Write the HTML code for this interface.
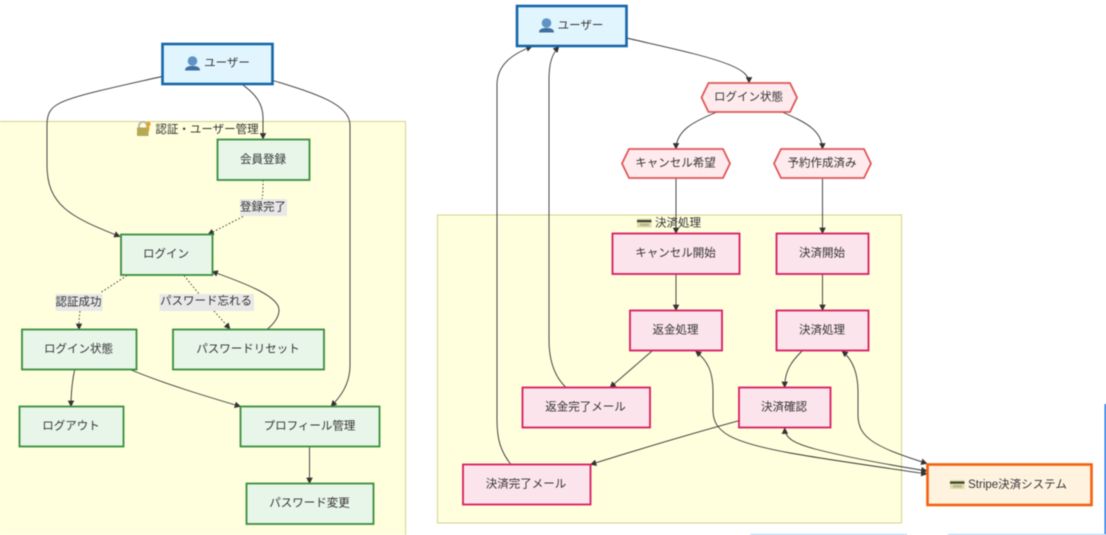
<!DOCTYPE html>
<html lang="ja">
<head>
<meta charset="utf-8">
<title>Diagram</title>
<style>
html,body{margin:0;padding:0;background:#fff;width:1106px;height:535px;overflow:hidden}
svg{display:block;filter:blur(0.5px)}
text{font-family:"Liberation Sans","Noto Sans CJK JP",sans-serif;font-size:11.5px;fill:#333;text-anchor:middle;dominant-baseline:central}
.u{fill:#e1f5fe;stroke:#1565a8;stroke-width:2.6}
.g{fill:#e8f5e9;stroke:#388e3c;stroke-width:1.8}
.r{fill:#ffebee;stroke:#e05555;stroke-width:1.8}
.p{fill:#fce4ec;stroke:#d81b60;stroke-width:1.8}
.s{fill:#fff3e0;stroke:#f4600c;stroke-width:2.6}
.sg{fill:#ffffde;stroke:#d3d38c;stroke-width:1}
.e{fill:none;stroke:#333;stroke-width:.9;marker-end:url(#a)}
.d{stroke-dasharray:1.6 2}
.b{marker-start:url(#b)}
.n{marker-end:none}
.l{fill:#e8e8e8}
</style>
</head>
<body>
<svg width="1106" height="535" viewBox="0 0 1106 535" xmlns="http://www.w3.org/2000/svg">
<defs>
<marker id="a" markerUnits="userSpaceOnUse" viewBox="0 0 10 10" refX="9" refY="5" markerWidth="6.500" markerHeight="6.500" orient="auto"><path d="M0,0L10,5L0,10z" fill="#333"/></marker>
<marker id="b" markerUnits="userSpaceOnUse" viewBox="0 0 10 10" refX="1" refY="5" markerWidth="6.500" markerHeight="6.500" orient="auto"><path d="M10,0L0,5L10,10z" fill="#333"/></marker>
<g id="card"><rect x="0" y="0" width="14.500" height="9" fill="#dcdca8"/><rect x="0" y="1.500" width="14.500" height="2.200" fill="#3f3f30"/><rect x="3" y="5" width="9" height="2.500" fill="#b9b98e"/></g>
<g id="person"><circle cx="7.500" cy="5" r="4.800" fill="#5f93c4"/><path d="M0,14.500C0,10.500 4,10 7.500,10S15,10.500 15,14.500z" fill="#3f6f9f"/></g>
</defs>

<!-- Subgraphs -->
<rect class="sg" x="-5" y="121.500" width="410.500" height="425"/>
<rect class="sg" x="437.500" y="215" width="464" height="308"/>

<!-- Left edges -->
<path class="e" d="M162,76.500C120,86 76,95 60,103C50,108 47,114 47,125L47,165C47,205 70,217 120,236.500"/>
<path class="e" d="M243,85C255,94 263,103 263,118L263,139"/>
<path class="e" d="M273,80.500C310,92 350,103 350,125L350,365C350,385 340,397 331,406.500"/>
<path class="e d n" d="M263,180C263,190 263,193 262,199"/>
<path class="e d" d="M243,216.500L208,234.500"/>
<path class="e d n" d="M127,275.500L100,293"/>
<path class="e d" d="M80,311C79,318 79,322 79,329.500"/>
<path class="e d n" d="M184,275.500L199,294"/>
<path class="e d" d="M214,311L230,329"/>
<path class="e" d="M267,329.500C276,322 279,316 279,310C279,297 250,285 212,271.500"/>
<path class="e" d="M74.700,369.500C72,382 71,392 71,406.500"/>
<path class="e" d="M130,369.500C165,384 205,396 240.500,406.500"/>
<path class="e" d="M309.500,446.500L309.500,483.500"/>

<!-- Right edges -->
<path class="e" d="M626.500,38C665,47 705,55 730,65C742,70 749,75 749,83"/>
<path class="e" d="M717,112C695,121 676,130 676,149"/>
<path class="e" d="M782,112C805,122 822,130 822.500,149"/>
<path class="e" d="M676,178L676,233.500"/>
<path class="e" d="M822.500,178L822.500,233.500"/>
<path class="e" d="M676,274L676,310.500"/>
<path class="e" d="M822.500,274L822.500,310.500"/>
<path class="e" d="M652,351L610,387.500"/>
<path class="e" d="M802,351C792,361 784.700,370 784.700,387.500"/>
<path class="e" d="M739,420.700C690,434 640,449 590.500,464.500"/>
<path class="e" d="M566,387.500C555,377 549,362 549,340L549,80C549,65 551,55 559,46.500"/>
<path class="e" d="M511,464.500C501,452 497,440 497,420L497,85C497,65 512,54 532,46.500"/>
<path class="e b" d="M695.500,351C708,361 713,372 713,392L713,410C713,432 730,442 790,453C830,460 880,467 927,474"/>
<path class="e b" d="M784.700,428C785,438 793,443 815,449C850,458 890,465 927,471"/>
<path class="e b" d="M842,351C852,359 858,372 858,392L858,415C858,438 875,447 927,463.500"/>

<!-- Left nodes -->
<rect class="u" x="162.500" y="44" width="110" height="40"/>
<rect class="g" x="217.500" y="139.500" width="92" height="40.500"/>
<rect class="g" x="121" y="234.500" width="91.500" height="40.500"/>
<rect class="g" x="22" y="329.500" width="114.500" height="40"/>
<rect class="g" x="173" y="329.500" width="151" height="40"/>
<rect class="g" x="19.500" y="406.500" width="104" height="40"/>
<rect class="g" x="240.500" y="406.500" width="139" height="40"/>
<rect class="g" x="246.500" y="483.500" width="127" height="40.500"/>

<!-- Right nodes -->
<rect class="u" x="517" y="6" width="109.500" height="40"/>
<path class="r" d="M701.500,97.500L708.500,83H790L797,97.500L790,112H708.500z"/>
<path class="r" d="M622,163.500L629,149H723L730,163.500L723,178H629z"/>
<path class="r" d="M774,163.500L781,149H864L871,163.500L864,178H781z"/>
<rect class="p" x="612.500" y="233.500" width="127" height="40.500"/>
<rect class="p" x="776.500" y="233.500" width="92" height="40.500"/>
<rect class="p" x="630" y="310.500" width="92" height="40"/>
<rect class="p" x="776.500" y="310.500" width="92" height="40"/>
<rect class="p" x="522.500" y="387.500" width="127.500" height="40"/>
<rect class="p" x="739" y="387.500" width="91.500" height="40"/>
<rect class="p" x="463" y="464.500" width="127.500" height="40"/>
<rect class="s" x="927.500" y="464.500" width="164" height="40.500"/>

<!-- Edge label backgrounds -->
<rect class="l" x="240" y="199" width="47" height="17"/>
<rect class="l" x="55.500" y="294" width="47" height="17"/>
<rect class="l" x="159.500" y="294" width="94.500" height="17"/>

<!-- Icons -->
<use href="#person" x="185" y="56"/>
<use href="#person" x="539" y="18"/>
<use href="#card" x="637" y="218.500"/>
<use href="#card" x="950" y="480"/>
<g>
<path d="M139,128V126C139,120.500 147,120.500 147,126V128" fill="none" stroke="#b5b5aa" stroke-width="1.800"/>
<rect x="137" y="127.500" width="11.500" height="8.500" fill="#b5a955"/>
<circle cx="148.500" cy="124" r="2.200" fill="#e8a020"/>
<rect x="147.800" y="125" width="1.500" height="6" fill="#e8a020"/>
</g>

<!-- Labels -->
<g transform="translate(-0.500,1)">
<text x="227.500" y="62.500">ユーザー</text>
<text x="207.500" y="129">認証・ユーザー管理</text>
<text x="263.500" y="159">会員登録</text>
<text x="263.500" y="206.500">登録完了</text>
<text x="166.500" y="253.500">ログイン</text>
<text x="79" y="301.500">認証成功</text>
<text x="206.500" y="300.500">パスワード忘れる</text>
<text x="79" y="348.500">ログイン状態</text>
<text x="248.500" y="348.500">パスワードリセット</text>
<text x="71.500" y="425.500">ログアウト</text>
<text x="310" y="425.500">プロフィール管理</text>
<text x="310" y="502.500">パスワード変更</text>

<text x="581" y="25">ユーザー</text>
<text x="749" y="96.500">ログイン状態</text>
<text x="676" y="162.500">キャンセル希望</text>
<text x="822.500" y="162.500">予約作成済み</text>
<text x="678.500" y="222.500">決済処理</text>
<text x="676" y="252.500">キャンセル開始</text>
<text x="822.500" y="252.500">決済開始</text>
<text x="676" y="329.500">返金処理</text>
<text x="822.500" y="329.500">決済処理</text>
<text x="586" y="406.500">返金完了メール</text>
<text x="784.500" y="406.500">決済確認</text>
<text x="526.500" y="483.500">決済完了メール</text>
<text x="1018" y="484">Stripe決済システム</text>
</g>

<!-- Cropped element edges at the right/bottom of the image -->
<rect x="1104.500" y="404" width="1.500" height="131" fill="#1a73e8"/>
<rect x="750" y="534" width="157" height="1" fill="#a9d2f5"/>
<rect x="948" y="534" width="158" height="1" fill="#a9d2f5"/>
</svg>
</body>
</html>
